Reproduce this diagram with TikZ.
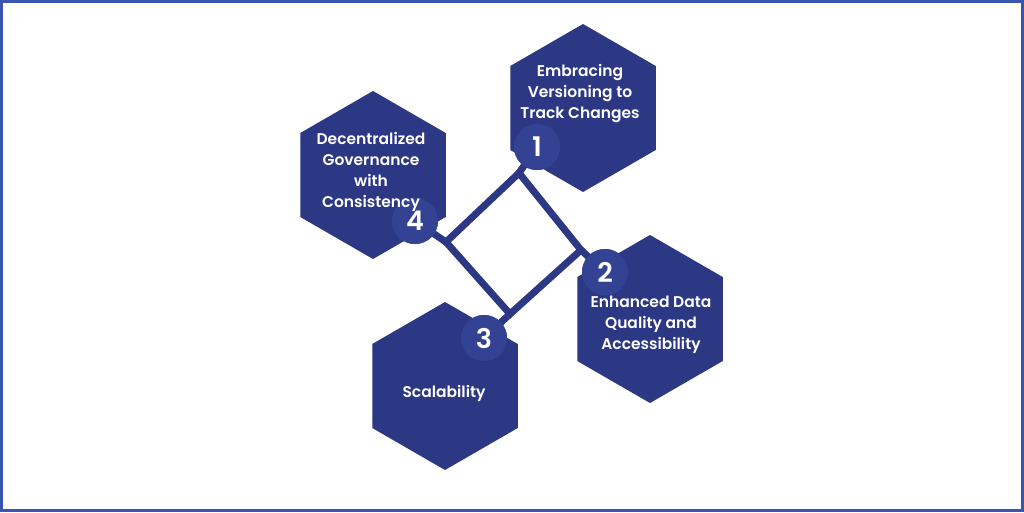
\documentclass[tikz,border=0pt]{standalone}
\usepackage{fontspec}
\setmainfont{Poppins}[BoldFont={Poppins SemiBold}]
\usetikzlibrary{shapes.geometric}
\definecolor{hexblue}{RGB}{44,56,132}
\definecolor{circblue}{RGB}{52,66,148}
\definecolor{frameblue}{RGB}{58,86,176}
\tikzset{
  hexbox/.style={regular polygon, regular polygon sides=6, shape border rotate=30,
    minimum size=168pt, inner sep=0pt, fill=hexblue, draw=none},
  numcirc/.style={circle, fill=circblue, minimum size=46pt, inner sep=0pt,
    text=white, font=\fontsize{27}{27}\selectfont\bfseries},
  hextext/.style={text=white, align=center, font=\fontsize{15.5}{21}\selectfont\bfseries},
  link/.style={draw=hexblue, line width=7pt, line cap=round, line join=miter}
}
\begin{document}
\begin{tikzpicture}[x=1pt,y=-1pt]
\useasboundingbox (0,0) rectangle (1024,512);
\fill[white] (0,0) rectangle (1024,512);
\draw[frameblue, line width=3pt] (1.5,1.5) rectangle (1022.5,510.5);
% hexagons
\node[hexbox] (h1) at (583,108) {};
\node[hexbox] (h2) at (650,319) {};
\node[hexbox] (h3) at (445,386) {};
\node[hexbox] (h4) at (373,175) {};
% square connector
\coordinate (sqT) at (519,173);
\coordinate (sqR) at (581,250);
\coordinate (sqB) at (510,314);
\coordinate (sqL) at (446,242);
\path[link] (sqT) -- (sqR) -- (sqB) -- (sqL) -- cycle;
% circles
\node[numcirc] (n1) at (537,147) {1};
\node[numcirc] (n2) at (605,272) {2};
\node[numcirc] (n3) at (484,338) {3};
\node[numcirc] (n4) at (415,221) {4};
\path[link] (sqT) -- (n1.center);
\path[link] (sqR) -- (n2.center);
\path[link] (sqB) -- (n3.center);
\path[link] (sqL) -- (n4.center);
\node[numcirc] at (n1) {1};
\node[numcirc] at (n2) {2};
\node[numcirc] at (n3) {3};
\node[numcirc] at (n4) {4};
% texts
\node[hextext] (t1) at (580,94) {Embracing\\Versioning to\\Track Changes};
\node[hextext] (t2) at (651,325) {Enhanced Data\\Quality and\\Accessibility};
\node[hextext] (t3) at (444,393) {Scalability};
\node[hextext] (t4) at (371,172) {Decentralized\\Governance\\with\\Consistency};
\end{tikzpicture}
\end{document}
